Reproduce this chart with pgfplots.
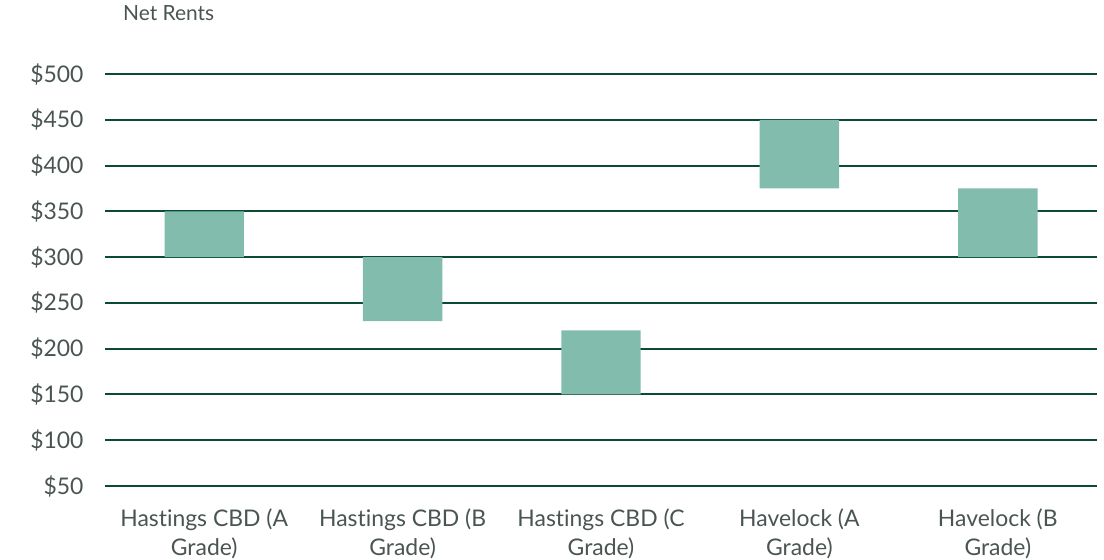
\documentclass[border=0pt]{standalone}
\usepackage{pgfplots}
\pgfplotsset{compat=1.18}
\usepackage{fontspec}
\setmainfont{Lato}[Ligatures=NoCommon]
\definecolor{gridc}{HTML}{0B4A35}
\definecolor{barc}{HTML}{82BCAD}
\definecolor{txt}{HTML}{4A5553}
\begin{document}
\begin{tikzpicture}[x=1bp,y=1bp]
\path[use as bounding box] (0,0) rectangle (1104,560);
\node[anchor=base west,text=txt,font=\fontsize{21}{24}\selectfont,inner sep=0] at (123,539) {Net Rents};
\begin{axis}[
  at={(105bp,74bp)}, anchor=south west,
  scale only axis, width=992bp, height=412bp,
  xmin=-0.5, xmax=4.5, ymin=50, ymax=500,
  ybar stacked, bar width=0.4,
  axis line style={draw=none},
  major tick length=0,
  ytick={50,100,...,500},
  yticklabels={\$50,\$100,\$150,\$200,\$250,\$300,\$350,\$400,\$450,\$500},
  ymajorgrids, grid style={gridc,line width=2bp},
  xtick={0,1,2,3,4},
  xticklabels={{Hastings CBD (A\\Grade)},{Hastings CBD (B\\Grade)},{Hastings CBD (C\\Grade)},{Havelock (A\\Grade)},{Havelock (B\\Grade)}},
  xticklabel style={align=center,text=txt,font=\fontsize{23}{29}\selectfont,yshift=-19bp},
  yticklabel style={text=txt,font=\fontsize{23}{26}\selectfont,xshift=-18bp},
  clip=false,
]
\addplot[draw=none,fill=none] coordinates {(0,300) (1,230) (2,150) (3,375) (4,300)};
\addplot[draw=none,fill=barc] coordinates {(0,50) (1,70) (2,70) (3,75) (4,75)};
\end{axis}
\end{tikzpicture}
\end{document}
